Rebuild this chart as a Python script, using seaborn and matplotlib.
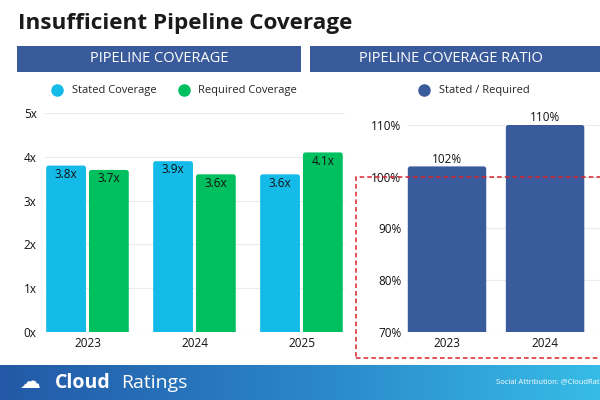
import numpy as np
import pandas as pd
import seaborn as sns
import matplotlib.pyplot as plt
from matplotlib.patches import Rectangle, FancyBboxPatch
from matplotlib.lines import Line2D
from matplotlib.colors import LinearSegmentedColormap

# data
years = ["2023", "2024", "2025"]
stated = [3.8, 3.9, 3.6]
required = [3.7, 3.6, 4.1]
ratio = [102, 110, 88]  # 2025 falls outside the visible crop
cov_ticks = [0, 1, 2, 3, 4, 5]
ratio_ticks = [70, 80, 90, 100, 110]

STATED_C = "#14bbe9"
REQUIRED_C = "#00bf5f"
NAVY = "#3a5b9b"
W, H = 600, 400

sns.set_style("white")
plt.rcParams["font.family"] = ["Open Sans", "DejaVu Sans"]


def box(x0, y0, x1, y1):
    """pixel box (top-left origin) -> figure rect"""
    return [x0 / W, 1 - y1 / H, (x1 - x0) / W, (y1 - y0) / H]


def round_tops(ax, radius_px=2.5):
    # swap bar rectangles for ones with rounded top corners;
    # the bottom is pushed below the axis so those corners get clipped
    bbox = ax.get_window_extent()
    x0, x1 = ax.get_xlim()
    y0, y1 = ax.get_ylim()
    sx = (x1 - x0) / bbox.width
    sy = (y1 - y0) / bbox.height
    drop = 3 * radius_px * sy
    for p in list(ax.patches):
        x, y, w, h = p.get_x(), p.get_y(), p.get_width(), p.get_height()
        fb = FancyBboxPatch((x, y - drop), w, h + drop,
                            boxstyle=f"round,pad=0,rounding_size={radius_px * sx}",
                            mutation_aspect=sy / sx,
                            facecolor=p.get_facecolor(), edgecolor="none",
                            zorder=p.get_zorder())
        ax.add_patch(fb)
        p.set_visible(False)
    ax.set_ylim(y0, y1)


fig = plt.figure(figsize=(6, 4), dpi=100)
fig.patch.set_facecolor("white")

# title
fig.text(18 / W, 1 - 23 / H, "Insufficient Pipeline Coverage", fontsize=16.2,
         fontweight="bold", color="#1a1a1a", va="center", ha="left")

# header bars
hdr1 = fig.add_axes(box(17, 46, 301, 72))
hdr2 = fig.add_axes(box(310, 46, 700, 72))
for hax in (hdr1, hdr2):
    hax.set_facecolor(NAVY)
    hax.set_xticks([])
    hax.set_yticks([])
    for s in hax.spines.values():
        s.set_visible(False)
hdr1.text(0.5, 0.5, "PIPELINE COVERAGE", color="white", fontsize=10.5,
          ha="center", va="center", transform=hdr1.transAxes)
fig.text(359 / W, 1 - 59 / H, "PIPELINE COVERAGE RATIO", color="white",
         fontsize=10.5, ha="left", va="center")

# legends
def dot(c):
    return Line2D([], [], marker="o", linestyle="none", markersize=8,
                  markerfacecolor=c, markeredgecolor=c)

fig.legend([dot(STATED_C), dot(REQUIRED_C)], ["Stated Coverage", "Required Coverage"],
           loc="center left", bbox_to_anchor=(36 / W, 1 - 91 / H), ncol=2,
           frameon=False, fontsize=8, handletextpad=0.3, columnspacing=1.5)
fig.legend([dot(NAVY)], ["Stated / Required"],
           loc="center left", bbox_to_anchor=(403 / W, 1 - 91 / H),
           frameon=False, fontsize=8, handletextpad=0.3)

# left chart: coverage
df = pd.DataFrame({
    "year": years * 2,
    "value": stated + required,
    "series": ["Stated Coverage"] * 3 + ["Required Coverage"] * 3,
})
ax1 = fig.add_axes(box(45, 113, 345, 332))
sns.barplot(df, x="year", y="value", hue="series", ax=ax1,
            palette=[STATED_C, REQUIRED_C], width=0.8, gap=0.07,
            saturation=1, legend=False, zorder=2)
ax1.set_xlim(-0.397, 2.407)
ax1.set_ylim(0, 5)
ax1.set_yticks(cov_ticks)
ax1.set_yticklabels([f"{t}x" for t in cov_ticks])
ax1.yaxis.grid(True, color="#ebebeb", linewidth=0.8, zorder=0)
ax1.set_axisbelow(True)
for cont, vals in zip(ax1.containers, [stated, required]):
    ax1.bar_label(cont, labels=[f"{v:.1f}x" for v in vals], padding=-11,
                  fontsize=8.5, color="#111111", fontweight="medium")
ax1.set_xlabel("")
ax1.set_ylabel("")
for s in ax1.spines.values():
    s.set_visible(False)
ax1.tick_params(axis="both", length=0, labelsize=8.5, colors="#111111")
ax1.tick_params(axis="y", pad=6)
round_tops(ax1)

# right chart: ratio
ax2 = fig.add_axes(box(407, 125, 700, 332))
sns.barplot(x=years, y=ratio, ax=ax2, color=NAVY, width=0.8, saturation=1,
            zorder=2)
ax2.set_xlim(-0.408, 2.58)
ax2.set_ylim(70, 110)
ax2.set_yticks(ratio_ticks)
ax2.set_yticklabels([f"{t}%" for t in ratio_ticks])
ax2.yaxis.grid(True, color="#ebebeb", linewidth=0.8, zorder=0)
ax2.set_axisbelow(True)
ax2.bar_label(ax2.containers[0], labels=[f"{v}%" for v in ratio], padding=0.5,
              fontsize=8.5, color="#111111", fontweight="medium")
for s in ax2.spines.values():
    s.set_visible(False)
ax2.tick_params(axis="both", length=0, labelsize=8.5, colors="#111111")
ax2.tick_params(axis="y", pad=4)
round_tops(ax2)

# red dashed box around the sub-100% region
fig.add_artist(Rectangle((356 / W, 1 - 358 / H), 300 / W, (358 - 177) / H,
                         transform=fig.transFigure, fill=False,
                         edgecolor="#d9232b", linestyle=(0, (3, 2)),
                         linewidth=1.1, zorder=5))

# footer banner
ft = fig.add_axes(box(0, 365, 600, 400))
cmap = LinearSegmentedColormap.from_list("band", ["#2359a6", "#2a84c8", "#36bce6"])
ft.imshow(np.linspace(0, 1, 256).reshape(1, -1), aspect="auto", cmap=cmap,
          extent=[0, 1, 0, 1])
ft.set_xticks([])
ft.set_yticks([])
for s in ft.spines.values():
    s.set_visible(False)
ft.text(55 / W, 0.5, "Cloud", color="white", fontsize=14, fontweight="bold",
        va="center", ha="left", transform=ft.transAxes)
ft.text(121 / W, 0.5, "Ratings", color="white", fontsize=14,
        va="center", ha="left", transform=ft.transAxes)
ft.text(496 / W, 0.5, "Social Attribution: @CloudRatings", color="white",
        fontsize=5.5, va="center", ha="left", transform=ft.transAxes)
# simple cloud glyph
ft.text(20 / W, 0.5, "\u2601", color="white", fontsize=15, va="center",
        ha="left", transform=ft.transAxes, family=["DejaVu Sans"])

fig.savefig("out.png", dpi=100)
